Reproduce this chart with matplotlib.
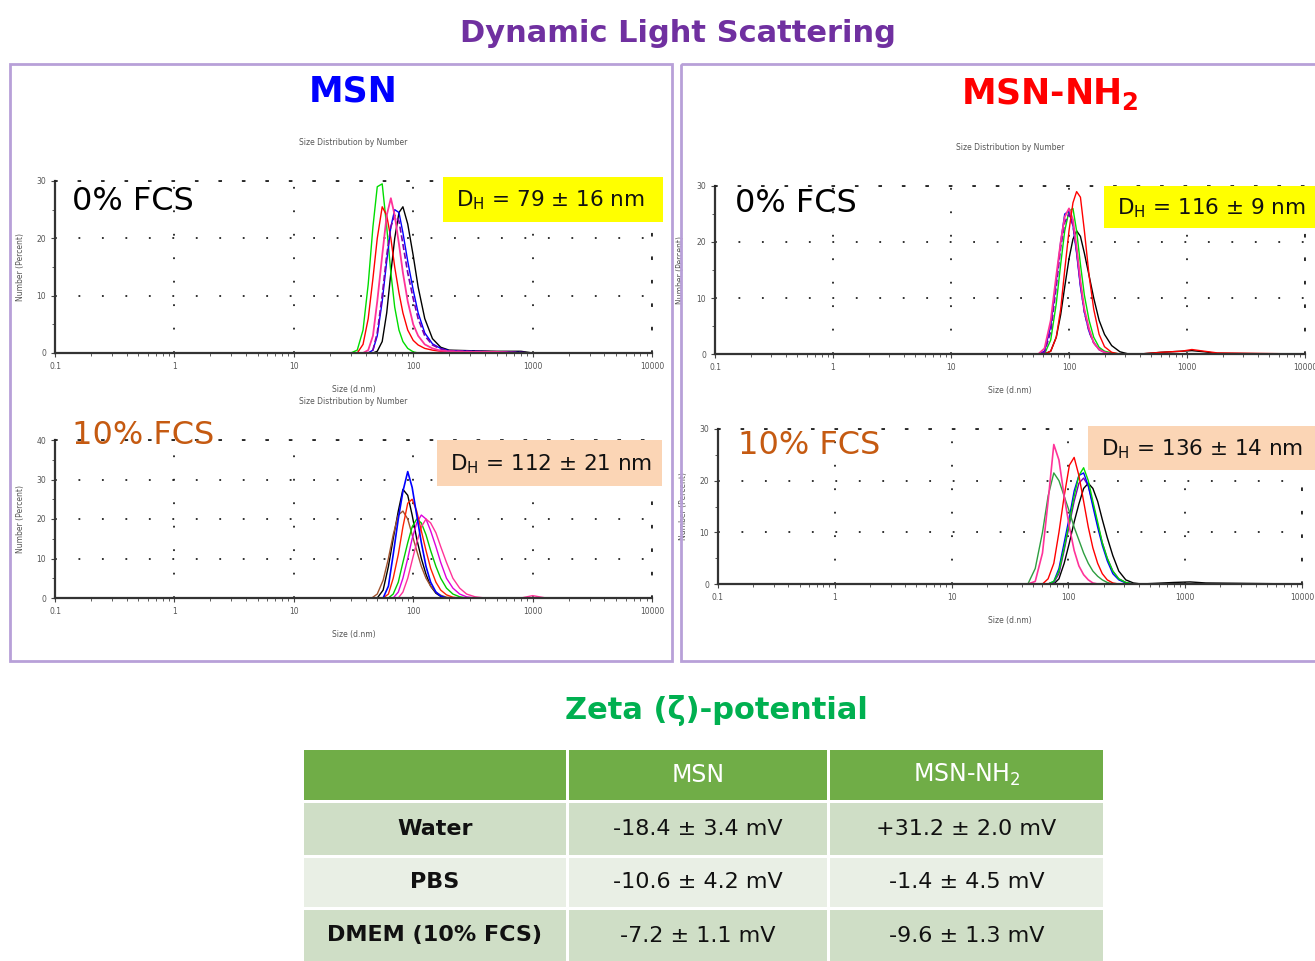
import matplotlib.pyplot as plt
from matplotlib.patches import Rectangle
from matplotlib.ticker import FixedLocator, MultipleLocator

plt.rcParams['font.family'] = 'DejaVu Sans'

# ---- DLS size distributions (Size in d.nm, Number %) ----
# MSN, 0% FCS
msn0_sizes = [0.1, 0.4, 30, 34, 38, 42, 46, 50, 55, 60, 65, 70, 76, 82, 90, 100,
              110, 125, 145, 170, 200, 300, 500, 800, 1000, 10000]
msn0_green = [0, 0, 0, 0.5, 4, 12, 22, 29, 29.5, 22, 14, 8, 4, 2, 0.8, 0.2, 0, 0, 0, 0, 0, 0, 0, 0, 0, 0]
msn0_red = [0, 0, 0, 0, 1.5, 6, 13, 20, 25.5, 24, 20, 15, 10.5, 7, 4, 2.2, 1.4, 0.8, 0.5, 0.3, 0.2, 0.1, 0, 0, 0, 0]
msn0_pink = [0, 0, 0, 0, 0, 0.5, 3, 9, 17, 24, 27, 24, 19, 14, 9, 5, 3, 1.5, 0.8, 0.4, 0.3, 0.2, 0.2, 0, 0, 0]
msn0_blue = [0, 0, 0, 0, 0, 0, 0.5, 3, 9, 16, 22, 25, 24.5, 21, 16, 11, 7, 3.5, 1.6, 0.8, 0.4, 0.3, 0.2, 0.1, 0, 0]
msn0_purple = [0, 0, 0, 0, 0, 0, 0.5, 3.5, 10, 17, 22, 24, 23, 19, 14, 9.5, 6, 3, 1.4, 0.7, 0.4, 0.3, 0.2, 0.1, 0, 0]
msn0_black = [0, 0, 0, 0, 0, 0, 0, 0.3, 2, 7, 14, 20, 24.5, 25.5, 22.5, 17, 11.5, 6, 2.5, 1, 0.5, 0.4, 0.3, 0.3, 0, 0]

# MSN-NH2, 0% FCS
nh0_sizes = [0.1, 55, 62, 70, 78, 85, 92, 100, 108, 116, 125, 135, 148, 162, 180, 200,
             230, 270, 320, 400, 600, 900, 1100, 1400, 1800, 10000]
nh0_pink = [0, 0, 1, 6, 14, 20, 24.5, 26, 24, 19, 13, 8, 4.5, 2, 0.8, 0.3, 0, 0, 0, 0, 0, 0, 0, 0, 0, 0]
nh0_blue = [0, 0, 0.5, 5, 13, 20, 25, 25.5, 23, 18, 12, 7.5, 4, 2, 0.8, 0.3, 0, 0, 0, 0, 0, 0, 0, 0, 0, 0]
nh0_green = [0, 0, 0, 2.5, 9, 16, 22, 25.5, 26, 22, 16, 10.5, 6, 3, 1.2, 0.5, 0.2, 0, 0, 0, 0, 0, 0, 0, 0, 0]
nh0_purple = [0, 0, 0.3, 4, 12, 19, 23.5, 25, 23, 18.5, 12.5, 7.5, 4, 2, 0.8, 0.3, 0, 0, 0, 0, 0, 0, 0, 0, 0, 0]
nh0_red = [0, 0, 0, 0.5, 3, 8, 15, 22, 27, 29, 28, 22, 14, 8, 3.5, 1.3, 0.3, 0, 0, 0, 0.3, 0.5, 0.8, 0.5, 0.2, 0]
nh0_black = [0, 0, 0, 0.5, 3, 7, 12, 17, 20.5, 22, 21, 18, 14, 10, 6, 3.5, 1.5, 0.4, 0, 0, 0.3, 0.5, 0.6, 0.4, 0.1, 0]

# MSN, 10% FCS
msn10_sizes = [0.1, 45, 50, 56, 62, 68, 75, 82, 90, 98, 107, 117, 128, 140, 155, 170,
               190, 215, 245, 280, 330, 400, 800, 1000, 1300, 10000]
msn10_blue = [0, 0, 0, 0, 3, 11, 20, 27, 32, 28, 21, 14, 8, 4, 1.5, 0.5, 0, 0, 0, 0, 0, 0, 0, 0, 0, 0]
msn10_black = [0, 0, 0, 2, 8, 15, 22, 27.5, 26, 21, 15, 10, 6, 3, 1.2, 0.4, 0, 0, 0, 0, 0, 0, 0, 0, 0, 0]
msn10_red = [0, 0, 0, 0, 1, 5, 11, 18, 24, 25, 22, 17, 12, 7.5, 4, 2, 0.8, 0.2, 0, 0, 0, 0, 0, 0, 0, 0]
msn10_brown = [0, 0, 1, 4.5, 10, 16, 21, 22, 20, 16, 12, 8, 5, 3, 1.5, 0.7, 0.2, 0, 0, 0, 0, 0, 0, 0, 0, 0]
msn10_green = [0, 0, 0, 0, 0, 1, 4, 9, 14, 18, 20, 19, 16, 12, 8, 5, 2.5, 1, 0.3, 0, 0, 0, 0, 0, 0, 0]
msn10_magenta = [0, 0, 0, 0, 0, 0, 1.5, 5, 10, 15, 19, 21, 20, 17, 13, 9, 5, 2.5, 1, 0.3, 0, 0, 0, 0, 0, 0]
msn10_pink = [0, 0, 0, 0, 0, 0, 0, 1.5, 5, 9.5, 14, 18, 20, 19, 16.5, 13, 9, 5, 2.5, 1, 0.3, 0, 0, 0.6, 0, 0]

# MSN-NH2, 10% FCS
nh10_sizes = [0.1, 45, 52, 60, 67, 75, 83, 92, 102, 112, 123, 135, 148, 162, 178, 195,
              215, 240, 270, 310, 360, 420, 800, 1100, 1500, 10000]
nh10_pink = [0, 0, 0.5, 6, 16, 27, 24, 17, 11, 6.5, 3.5, 1.8, 0.8, 0.2, 0, 0, 0, 0, 0, 0, 0, 0, 0, 0, 0, 0]
nh10_dkgreen = [0, 0, 3, 10, 17, 21.5, 20, 17, 14, 11, 8.5, 6, 4, 2.5, 1.5, 0.8, 0.3, 0, 0, 0, 0, 0, 0, 0, 0, 0]
nh10_red = [0, 0, 0, 0, 1, 4, 10, 17, 23, 24.5, 21, 16, 11, 7, 4, 2, 0.8, 0.2, 0, 0, 0, 0, 0, 0, 0, 0]
nh10_green = [0, 0, 0, 0, 0, 0.5, 2.5, 7, 12, 17, 21, 22.5, 20, 16, 12, 8, 5, 2.5, 1, 0.3, 0, 0, 0, 0, 0, 0]
nh10_blue = [0, 0, 0, 0, 0, 0.5, 3, 8, 13, 18, 21, 21.5, 19, 15, 11, 7.5, 4.5, 2, 0.8, 0.2, 0, 0, 0, 0, 0, 0]
nh10_purple = [0, 0, 0, 0, 0, 0.3, 2, 6.5, 11.5, 16, 19.5, 20.5, 19, 15.5, 11.5, 8, 5, 2.5, 1, 0.3, 0, 0, 0, 0, 0, 0]
nh10_black = [0, 0, 0, 0, 0, 0, 1, 4, 8, 12, 15.5, 18.5, 19.5, 18.5, 16, 12.5, 9, 5.5, 2.5, 0.8, 0.2, 0, 0.3, 0.4, 0.2, 0]

# ---- Zeta potential table ----
zeta_cols = ['MSN', 'MSN-NH$_2$']
zeta_rows = ['Water', 'PBS', 'DMEM (10% FCS)']
zeta_msn = ['-18.4 ± 3.4 mV', '-10.6 ± 4.2 mV', '-7.2 ± 1.1 mV']
zeta_nh2 = ['+31.2 ± 2.0 mV', '-1.4 ± 4.5 mV', '-9.6 ± 1.3 mV']

fig = plt.figure(figsize=(13.15, 9.61), dpi=100)
W, H = 1315, 961


def px_axes(left, top, right, bottom):
    return fig.add_axes([left / W, 1 - bottom / H, (right - left) / W, (bottom - top) / H])


def style_dls(ax, ymax, title=True):
    ax.set_xscale('log')
    ax.set_xlim(0.1, 10000)
    ax.set_ylim(0, ymax)
    ax.set_facecolor('none')
    ax.xaxis.set_major_locator(FixedLocator([0.1, 1, 10, 100, 1000, 10000]))
    ax.set_xticklabels(['0.1', '1', '10', '100', '1000', '10000'])
    ax.yaxis.set_major_locator(MultipleLocator(10))
    ax.yaxis.set_minor_locator(MultipleLocator(5))
    ax.tick_params(labelsize=5.5, labelcolor='#555555', length=3, color='#444444')
    ax.tick_params(which='minor', length=2, color='#444444')
    ax.grid(True, which='major', color='#222222', linestyle=(0, (1, 12)), linewidth=1.3)
    for s in ['left', 'bottom']:
        ax.spines[s].set_color('#333333')
        ax.spines[s].set_linewidth(1.6)
    for s in ['top', 'right']:
        ax.spines[s].set_linestyle((0, (1, 12)))
        ax.spines[s].set_linewidth(1.3)
        ax.spines[s].set_color('#222222')
    ax.set_xlabel('Size (d.nm)', fontsize=5.5, color='#555555', labelpad=10)
    ax.set_ylabel('Number (Percent)', fontsize=5.5, color='#555555', labelpad=8)
    if title:
        ax.set_title('Size Distribution by Number', fontsize=5.5, color='#555555', pad=26)


# top-left: MSN 0% FCS
ax1 = px_axes(55, 181, 652, 353)
ax1.plot(msn0_sizes, msn0_black, color='black', lw=1)
ax1.plot(msn0_sizes, msn0_green, color='#00dd00', lw=1)
ax1.plot(msn0_sizes, msn0_red, color='#ff0000', lw=1)
ax1.plot(msn0_sizes, msn0_blue, color='#0000ff', lw=1)
ax1.plot(msn0_sizes, msn0_purple, color='#7a00b0', lw=1.2, ls='--')
ax1.plot(msn0_sizes[1:], msn0_pink[1:], color='#ff3399', lw=1.3)
style_dls(ax1, 30)

# bottom-left: MSN 10% FCS
ax2 = px_axes(55, 440, 652, 598)
ax2.plot(msn10_sizes, msn10_black, color='black', lw=1)
ax2.plot(msn10_sizes, msn10_brown, color='#a0522d', lw=1)
ax2.plot(msn10_sizes, msn10_green, color='#00cc00', lw=1)
ax2.plot(msn10_sizes, msn10_magenta, color='#dd00dd', lw=1)
ax2.plot(msn10_sizes, msn10_pink, color='#ff3399', lw=1)
ax2.plot(msn10_sizes, msn10_red, color='#ff2200', lw=1)
ax2.plot(msn10_sizes, msn10_blue, color='#0000ff', lw=1.2)
style_dls(ax2, 40)

# top-right: MSN-NH2 0% FCS
ax3 = px_axes(715, 186, 1305, 354)
ax3.plot(nh0_sizes, nh0_black, color='black', lw=1)
ax3.plot(nh0_sizes, nh0_green, color='#00dd00', lw=1)
ax3.plot(nh0_sizes, nh0_blue, color='#0000ff', lw=1)
ax3.plot(nh0_sizes, nh0_purple, color='#7a00b0', lw=1.2, ls='--')
ax3.plot(nh0_sizes, nh0_pink, color='#ff3399', lw=1.3)
ax3.plot(nh0_sizes, nh0_red, color='#ff0000', lw=1)
style_dls(ax3, 30)

# bottom-right: MSN-NH2 10% FCS
ax4 = px_axes(718, 429, 1302, 584)
ax4.plot(nh10_sizes, nh10_black, color='black', lw=1)
ax4.plot(nh10_sizes, nh10_purple, color='#7a00b0', lw=1)
ax4.plot(nh10_sizes, nh10_blue, color='#0000ff', lw=1)
ax4.plot(nh10_sizes, nh10_green, color='#00dd00', lw=1)
ax4.plot(nh10_sizes, nh10_red, color='#ff0000', lw=1)
ax4.plot(nh10_sizes, nh10_dkgreen, color='#2e9e40', lw=1)
ax4.plot(nh10_sizes, nh10_pink, color='#ff3399', lw=1.2)
style_dls(ax4, 30, title=False)

# ---- overlay in pixel coordinates ----
ov = fig.add_axes([0, 0, 1, 1], zorder=10)
ov.set_xlim(0, W)
ov.set_ylim(H, 0)
ov.axis('off')
ov.patch.set_alpha(0)

ov.text(678, 34, 'Dynamic Light Scattering', color='#7030a0', fontsize=22,
        fontweight='bold', ha='center', va='center')

# panel frames
ov.add_patch(Rectangle((10, 64), 662, 597, fill=False, ec='#b8a0d8', lw=2))
ov.add_patch(Rectangle((681, 64), 650, 597, fill=False, ec='#b8a0d8', lw=2, clip_on=False))

ov.text(353, 92, 'MSN', color='#0000ff', fontsize=25, fontweight='bold', ha='center', va='center')
ov.text(1050, 94, 'MSN-NH$_\\mathregular{2}$', color='#ff0000', fontsize=25,
        fontweight='bold', ha='center', va='center')

ov.text(72, 201, '0% FCS', color='black', fontsize=23, ha='left', va='center')
ov.text(72, 436, '10% FCS', color='#c55a11', fontsize=23, ha='left', va='center')
ov.text(735, 203, '0% FCS', color='black', fontsize=23, ha='left', va='center')
ov.text(738, 446, '10% FCS', color='#c55a11', fontsize=23, ha='left', va='center')

# D_H boxes
dh_boxes = [(443, 177, 220, 45, '#ffff00', '79 ± 16'),
            (437, 440, 225, 46, '#fbd5b5', '112 ± 21'),
            (1104, 186, 215, 42, '#ffff00', '116 ± 9'),
            (1088, 426, 230, 44, '#fbd5b5', '136 ± 14')]
for x, y, w, h, c, val in dh_boxes:
    ov.add_patch(Rectangle((x, y), w, h, fc=c, ec='none', clip_on=False))
    ov.text(x + 13, y + h / 2 + 1, 'D$_\\mathregular{H}$ = ' + val + ' nm', fontsize=15.5,
            color='#111111', ha='left', va='center')

# ---- Zeta potential table ----
ov.text(716, 711, 'Zeta (ζ)-potential', color='#00b050', fontsize=22,
        fontweight='bold', ha='center', va='center')

col_edges = [(304, 566), (569, 827), (830, 1103)]
row_edges = [(750, 800), (803, 855), (858, 907), (910, 961)]
row_colors = ['#70ad47', '#cfdec6', '#e9efe5', '#cfdec6']

for r, (y0, y1) in enumerate(row_edges):
    for c, (x0, x1) in enumerate(col_edges):
        ov.add_patch(Rectangle((x0, y0), x1 - x0, y1 - y0, fc=row_colors[r], ec='none'))

for c, lab in enumerate(zeta_cols):
    x0, x1 = col_edges[c + 1]
    ov.text((x0 + x1) / 2, 775, lab, color='white', fontsize=17, ha='center', va='center')

for r in range(len(zeta_rows)):
    y0, y1 = row_edges[r + 1]
    yc = (y0 + y1) / 2
    ov.text(sum(col_edges[0]) / 2, yc, zeta_rows[r], fontsize=16, fontweight='bold',
            color='#111111', ha='center', va='center')
    ov.text(sum(col_edges[1]) / 2, yc, zeta_msn[r], fontsize=16, color='#111111',
            ha='center', va='center')
    ov.text(sum(col_edges[2]) / 2, yc, zeta_nh2[r], fontsize=16, color='#111111',
            ha='center', va='center')

fig.savefig('out.png', dpi=100, facecolor='white')
